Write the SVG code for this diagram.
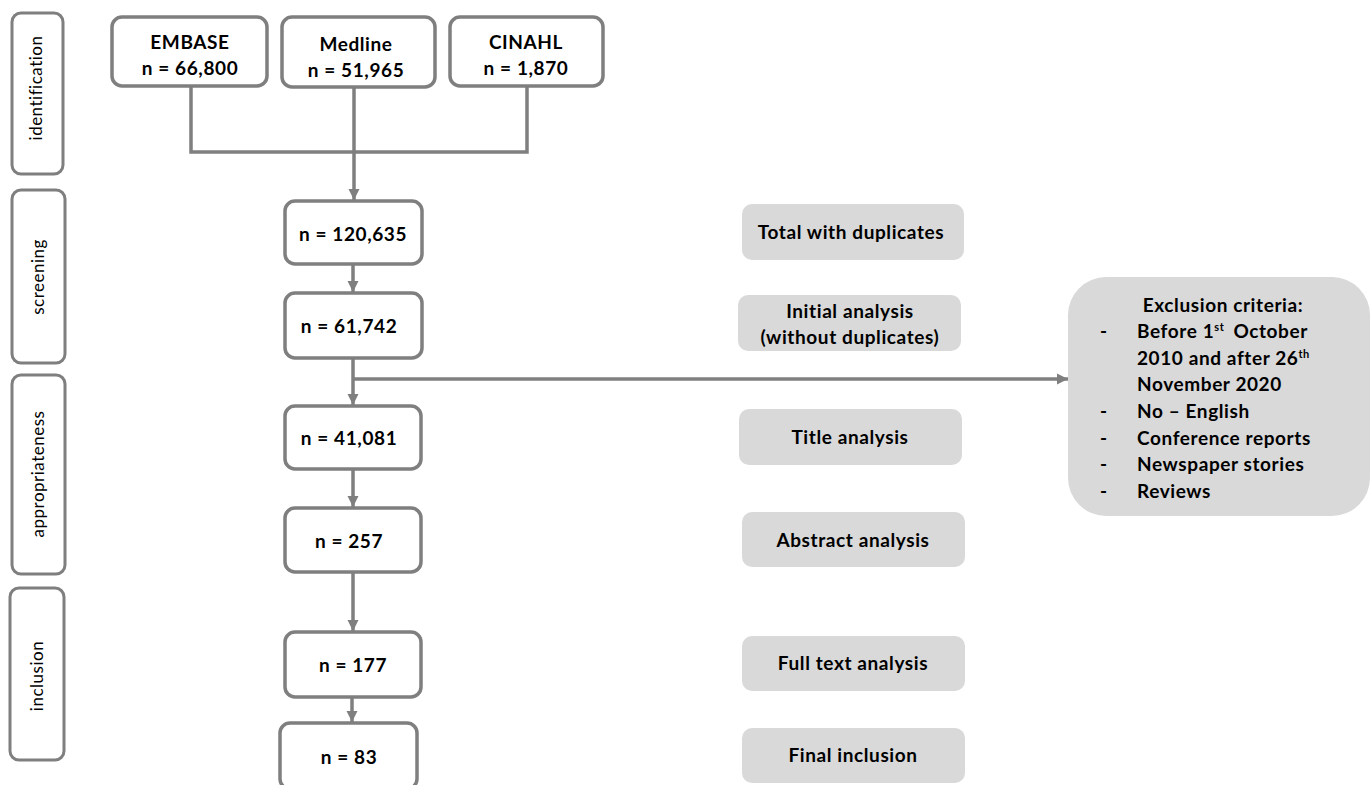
<svg xmlns="http://www.w3.org/2000/svg" width="1370" height="785" viewBox="0 0 1370 785">
<style>
.stage{fill:#fff;stroke:#7f7f7f;stroke-width:3}
.node{fill:#fff;stroke:#7f7f7f;stroke-width:3.5}
.label{fill:#d9d9d9;stroke:none}
.st{font-family:Lato,"Noto Sans",sans-serif;font-size:17px;letter-spacing:0.5px;fill:#000}
.t{font-family:Lato,"Noto Sans",sans-serif;font-size:19px;font-weight:bold;letter-spacing:0.6px;fill:#000}
.c{text-anchor:middle}
.conn{fill:none;stroke:#7f7f7f;stroke-width:3.5}
</style>
<defs>
<marker id="ah" viewBox="0 0 10 10" refX="10" refY="5" markerWidth="3.2" markerHeight="3.2" orient="auto" markerUnits="strokeWidth">
<path d="M0,0 L10,5 L0,10 Z" fill="#7f7f7f"/>
</marker>
</defs>
<rect width="1370" height="785" fill="#fff"/>

<g id="stage-identification">
<rect class="stage" x="12" y="13" width="51" height="161" rx="9"/>
<text class="st c" transform="translate(42,88) rotate(-90)">identification</text>
</g>
<g id="stage-screening">
<rect class="stage" x="12" y="190" width="53" height="173" rx="9"/>
<text class="st c" transform="translate(44,277) rotate(-90)">screening</text>
</g>
<g id="stage-appropriateness">
<rect class="stage" x="12" y="375" width="53" height="199" rx="9"/>
<text class="st c" transform="translate(44,474) rotate(-90)">appropriateness</text>
</g>
<g id="stage-inclusion">
<rect class="stage" x="10" y="588" width="54" height="172" rx="9"/>
<text class="st c" transform="translate(43,676) rotate(-90)">inclusion</text>
</g>

<g id="connectors">
<path class="conn" d="M191,86 V152 H527 V86"/>
<path class="conn" d="M354,87 V200" marker-end="url(#ah)"/>
<path class="conn" d="M353,264 V292" marker-end="url(#ah)"/>
<path class="conn" d="M353,358 V405" marker-end="url(#ah)"/>
<path class="conn" d="M353,379 H1068" marker-end="url(#ah)"/>
<path class="conn" d="M353,469 V507" marker-end="url(#ah)"/>
<path class="conn" d="M353,572 V631" marker-end="url(#ah)"/>
<path class="conn" d="M352,697 V722" marker-end="url(#ah)"/>
</g>

<g id="embase">
<rect class="node" x="112" y="17" width="155" height="69" rx="10"/>
<text class="t c" x="190" y="49">EMBASE</text>
<text class="t c" x="190" y="75">n = 66,800</text>
</g>
<g id="medline">
<rect class="node" x="282" y="17" width="153" height="70" rx="10"/>
<text class="t c" x="356" y="51">Medline</text>
<text class="t c" x="356" y="77">n = 51,965</text>
</g>
<g id="cinahl">
<rect class="node" x="450" y="17" width="153" height="69" rx="10"/>
<text class="t c" x="526" y="49">CINAHL</text>
<text class="t c" x="526" y="75">n = 1,870</text>
</g>

<g id="n120635">
<rect class="node" x="285" y="201" width="137" height="63" rx="10"/>
<text class="t c" x="353" y="241">n = 120,635</text>
</g>
<g id="n61742">
<rect class="node" x="285" y="293" width="137" height="65" rx="10"/>
<text class="t c" x="349" y="333">n = 61,742</text>
</g>
<g id="n41081">
<rect class="node" x="285" y="406" width="136" height="63" rx="10"/>
<text class="t c" x="349" y="445">n = 41,081</text>
</g>
<g id="n257">
<rect class="node" x="285" y="508" width="136" height="64" rx="10"/>
<text class="t c" x="349" y="548">n = 257</text>
</g>
<g id="n177">
<rect class="node" x="285" y="632" width="136" height="65" rx="10"/>
<text class="t c" x="353" y="672">n = 177</text>
</g>
<g id="n83">
<rect class="node" x="280" y="723" width="137" height="66" rx="10"/>
<text class="t c" x="349" y="764">n = 83</text>
</g>

<g id="lbl-total">
<rect class="label" x="742" y="204" width="222" height="56" rx="10"/>
<text class="t c" x="851" y="239">Total with duplicates</text>
</g>
<g id="lbl-initial">
<rect class="label" x="738" y="295" width="223" height="56" rx="10"/>
<text class="t c" x="850" y="318">Initial analysis</text>
<text class="t c" x="850" y="344">(without duplicates)</text>
</g>
<g id="lbl-title">
<rect class="label" x="739" y="409" width="223" height="56" rx="10"/>
<text class="t c" x="850" y="444">Title analysis</text>
</g>
<g id="lbl-abstract">
<rect class="label" x="742" y="512" width="223" height="55" rx="10"/>
<text class="t c" x="853" y="547">Abstract analysis</text>
</g>
<g id="lbl-fulltext">
<rect class="label" x="742" y="636" width="223" height="55" rx="10"/>
<text class="t c" x="853" y="670">Full text analysis</text>
</g>
<g id="lbl-final">
<rect class="label" x="742" y="728" width="223" height="55" rx="10"/>
<text class="t c" x="853" y="762">Final inclusion</text>
</g>

<g id="exclusion">
<rect class="label" x="1068" y="277" width="302" height="239" rx="38"/>
<text class="t c" x="1223" y="312">Exclusion criteria:</text>
<text class="t" x="1100" y="338">-</text>
<text class="t" x="1137" y="338">Before 1<tspan font-size="11" dy="-7">st</tspan><tspan dy="7" dx="9">October</tspan></text>
<text class="t" x="1137" y="365">2010 and after 26<tspan font-size="11" dy="-7">th</tspan></text>
<text class="t" x="1137" y="391">November 2020</text>
<text class="t" x="1100" y="418">-</text>
<text class="t" x="1137" y="418">No – English</text>
<text class="t" x="1100" y="445">-</text>
<text class="t" x="1137" y="445">Conference reports</text>
<text class="t" x="1100" y="471">-</text>
<text class="t" x="1137" y="471">Newspaper stories</text>
<text class="t" x="1100" y="498">-</text>
<text class="t" x="1137" y="498">Reviews</text>
</g>
</svg>
